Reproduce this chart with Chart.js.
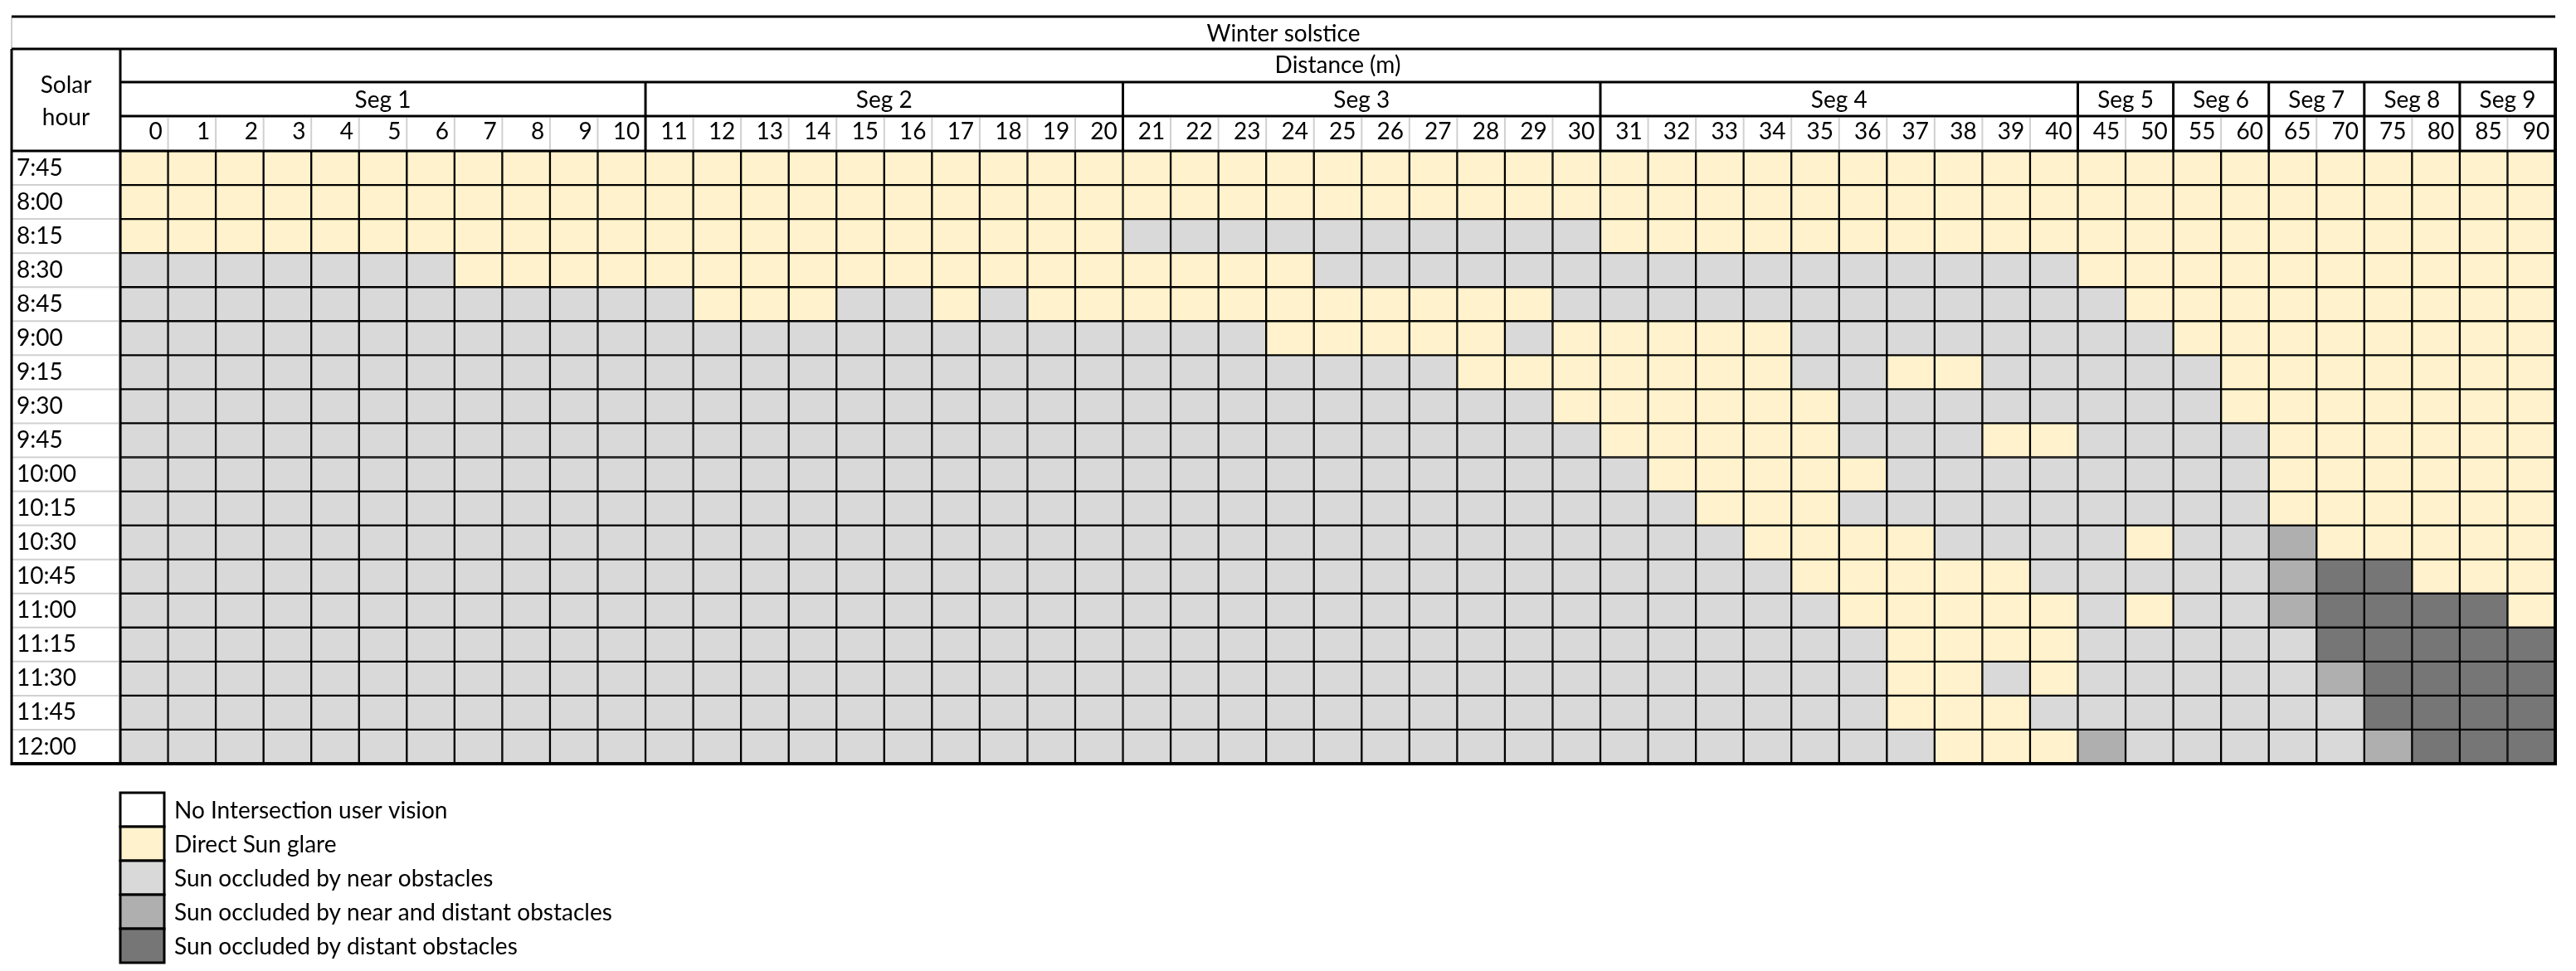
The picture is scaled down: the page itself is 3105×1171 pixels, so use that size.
<!DOCTYPE html>
<html lang="en">
<head>
    <meta charset="UTF-8">
    <title>Winter solstice - sun glare along the road</title>
    <script src="https://cdn.jsdelivr.net/npm/chart.js"></script>
    <style>
        body { margin: 0; background: #fff; }
    </style>
</head>
<body>
    <canvas id="glareChart" width="3105" height="1171"></canvas>

    <script>
        // rows (solar hour) and columns (distance in m)
        const hours = ['7:45', '8:00', '8:15', '8:30', '8:45', '9:00', '9:15', '9:30', '9:45',
            '10:00', '10:15', '10:30', '10:45', '11:00', '11:15', '11:30', '11:45', '12:00'];
        const distances = [0, 1, 2, 3, 4, 5, 6, 7, 8, 9, 10, 11, 12, 13, 14, 15, 16, 17, 18, 19, 20,
            21, 22, 23, 24, 25, 26, 27, 28, 29, 30, 31, 32, 33, 34, 35, 36, 37, 38, 39, 40,
            45, 50, 55, 60, 65, 70, 75, 80, 85, 90];
        const segLabels = ['Seg 1', 'Seg 2', 'Seg 3', 'Seg 4', 'Seg 5', 'Seg 6', 'Seg 7', 'Seg 8', 'Seg 9'];
        const segSizes = [11, 10, 10, 10, 2, 2, 2, 2, 2];

        const states = ['No Intersection user vision', 'Direct Sun glare', 'Sun occluded by near obstacles',
            'Sun occluded by near and distant obstacles', 'Sun occluded by distant obstacles'];
        const stateColors = ['#ffffff', '#fff2cc', '#d9d9d9', '#afafaf', '#767676'];

        // one string per hour, one digit per distance (state index), grouped by segment
        const cells = [
            '11111111111 1111111111 1111111111 1111111111 11 11 11 11 11', // 7:45
            '11111111111 1111111111 1111111111 1111111111 11 11 11 11 11', // 8:00
            '11111111111 1111111111 2222222222 1111111111 11 11 11 11 11', // 8:15
            '22222221111 1111111111 1111222222 2222222222 11 11 11 11 11', // 8:30
            '22222222222 2111221211 1111111112 2222222222 21 11 11 11 11', // 8:45
            '22222222222 2222222222 2221111121 1111222222 22 11 11 11 11', // 9:00
            '22222222222 2222222222 2222222111 1111221122 22 21 11 11 11', // 9:15
            '22222222222 2222222222 2222222221 1111122222 22 21 11 11 11', // 9:30
            '22222222222 2222222222 2222222222 1111122211 22 22 11 11 11', // 9:45
            '22222222222 2222222222 2222222222 2111112222 22 22 11 11 11', // 10:00
            '22222222222 2222222222 2222222222 2211122222 22 22 11 11 11', // 10:15
            '22222222222 2222222222 2222222222 2221111222 21 22 31 11 11', // 10:30
            '22222222222 2222222222 2222222222 2222111112 22 22 34 41 11', // 10:45
            '22222222222 2222222222 2222222222 2222211111 21 22 34 44 41', // 11:00
            '22222222222 2222222222 2222222222 2222221111 22 22 24 44 44', // 11:15
            '22222222222 2222222222 2222222222 2222221121 22 22 23 44 44', // 11:30
            '22222222222 2222222222 2222222222 2222221112 22 22 22 44 44', // 11:45
            '22222222222 2222222222 2222222222 2222222111 32 22 22 34 44'  // 12:00
        ];

        const tableTitle = 'Winter solstice';
        const distanceTitle = 'Distance (m)';
        const hourTitle = ['Solar', 'hour'];

        const grid = cells.map(r => r.replace(/ /g, '').split('').map(Number));

        const fontFamily = "Lato, 'Open Sans', sans-serif";
        Chart.defaults.font.family = fontFamily;
        Chart.defaults.font.size = 28;
        Chart.defaults.color = '#000';

        // header rows, borders and the legend, placed from the chart's own scales
        const tableFrame = {
            id: 'tableFrame',
            afterDraw(chart) {
                const { ctx, chartArea: area, scales: { x, y } } = chart;
                const n = distances.length;
                const colW = area.width / n;
                const edge = j => area.left + j * colW;
                const left = 14;
                const rowTop = [20, 59, 99, x.top, area.top];

                const line = (x1, y1, x2, y2, w, c) => {
                    ctx.beginPath();
                    ctx.lineWidth = w;
                    ctx.strokeStyle = c || '#000';
                    ctx.moveTo(x1, y1);
                    ctx.lineTo(x2, y2);
                    ctx.stroke();
                };

                ctx.save();

                // light gridlines
                for (let i = 1; i < hours.length; i++) {
                    const yy = y.getPixelForValue(i);
                    line(left, yy, area.left - 2, yy, 2, '#d0d0d0');
                }
                const segEdges = [0];
                segSizes.forEach(s => segEdges.push(segEdges[segEdges.length - 1] + s));
                for (let j = 1; j < n; j++) {
                    if (!segEdges.includes(j)) line(edge(j), rowTop[3] + 2, edge(j), rowTop[4] - 2, 2, '#d0d0d0');
                }
                line(left, rowTop[0], left, rowTop[1], 2, '#d0d0d0');

                // thick rules
                line(left, rowTop[0], area.right, rowTop[0], 3);
                line(left, rowTop[1], area.right + 2, rowTop[1], 3);
                line(area.left, rowTop[2], area.right, rowTop[2], 3);
                line(area.left, rowTop[3], area.right, rowTop[3], 3);
                line(left, rowTop[4], area.right, rowTop[4], 3);
                line(left, area.bottom, area.right + 2, area.bottom, 4);
                line(left, rowTop[1], left, area.bottom + 2, 3);
                line(area.left, rowTop[1], area.left, area.bottom, 3);
                line(area.right, rowTop[1], area.right, area.bottom + 2, 4);
                for (let k = 1; k < segEdges.length - 1; k++) {
                    line(edge(segEdges[k]), rowTop[2], edge(segEdges[k]), rowTop[4], 3);
                }

                // header texts
                ctx.fillStyle = '#000';
                ctx.font = '28px ' + fontFamily;
                ctx.textAlign = 'center';
                ctx.textBaseline = 'middle';
                ctx.fillText(tableTitle, (left + area.right) / 2, (rowTop[0] + rowTop[1]) / 2 + 1);
                ctx.fillText(distanceTitle, (area.left + area.right) / 2, (rowTop[1] + rowTop[2]) / 2);
                segLabels.forEach((s, k) => {
                    const cx = (edge(segEdges[k]) + edge(segEdges[k + 1])) / 2;
                    ctx.fillText(s, cx, (rowTop[2] + rowTop[3]) / 2 + 1);
                });
                ctx.fillText(hourTitle[0], (left + area.left) / 2, 103);
                ctx.fillText(hourTitle[1], (left + area.left) / 2, 142);

                // legend
                const boxW = 53, boxH = 41, legendTop = 956;
                ctx.textAlign = 'left';
                states.forEach((s, k) => {
                    const top = legendTop + k * boxH;
                    ctx.fillStyle = stateColors[k];
                    ctx.fillRect(area.left, top, boxW, boxH);
                    ctx.lineWidth = 3;
                    ctx.strokeStyle = '#000';
                    ctx.strokeRect(area.left, top, boxW, boxH);
                    ctx.fillStyle = '#000';
                    ctx.fillText(s, area.left + boxW + 12, top + boxH / 2 + 1);
                });

                ctx.restore();
            }
        };

        const ctx = document.getElementById('glareChart').getContext('2d');
        const glareChart = new Chart(ctx, {
            type: 'bar',
            data: {
                labels: distances.map(String),
                datasets: hours.map((h, i) => ({
                    label: h,
                    data: distances.map(() => [i, i + 1]),
                    backgroundColor: grid[i].map(s => stateColors[s])
                }))
            },
            options: {
                responsive: false,
                animation: false,
                events: [],
                layout: { padding: { left: 20, top: 140, right: 25, bottom: 250 } },
                datasets: {
                    bar: {
                        grouped: false,
                        categoryPercentage: 1,
                        barPercentage: 1,
                        borderWidth: 1.5,
                        borderColor: '#000',
                        borderSkipped: false
                    }
                },
                plugins: {
                    legend: { display: false },
                    tooltip: { enabled: false }
                },
                scales: {
                    x: {
                        position: 'top',
                        grid: { display: false, drawTicks: false },
                        border: { display: false },
                        ticks: { autoSkip: false, maxRotation: 0, align: 'end', labelOffset: 22, padding: 6 },
                        afterFit(scale) { scale.height = 42; }
                    },
                    y: {
                        min: 0,
                        max: 18,
                        reverse: true,
                        grid: { display: false, drawTicks: false },
                        border: { display: false },
                        afterBuildTicks(scale) {
                            scale.ticks = hours.map((h, i) => ({ value: i + 0.5 }));
                        },
                        afterFit(scale) { scale.width = 125; },
                        ticks: {
                            autoSkip: false,
                            crossAlign: 'far',
                            callback: (value, index) => hours[index]
                        }
                    }
                }
            },
            plugins: [tableFrame]
        });
    </script>
</body>
</html>
